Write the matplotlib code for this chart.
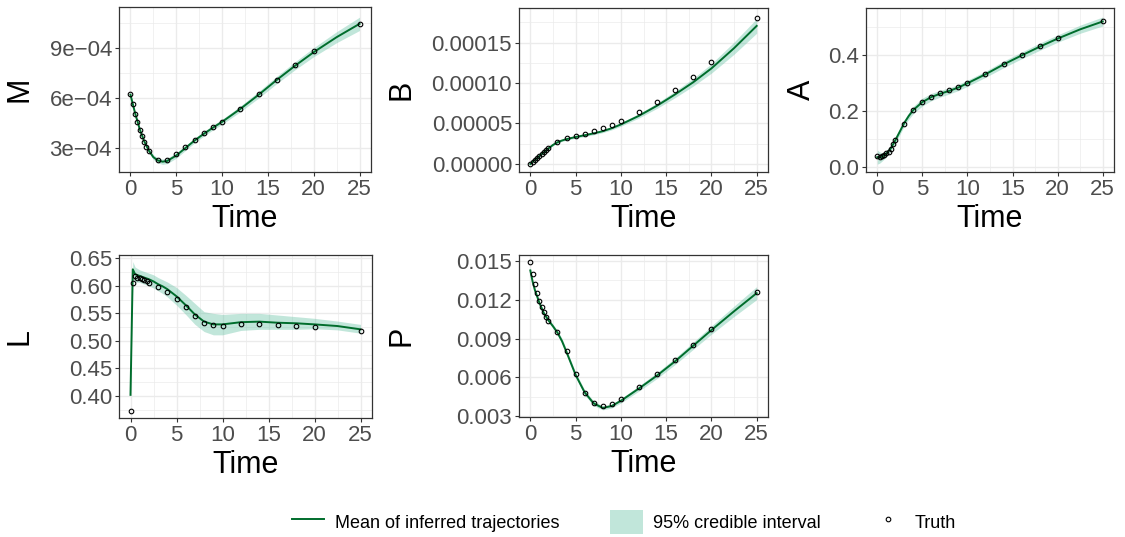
import matplotlib
matplotlib.use("Agg")
import matplotlib.pyplot as plt
import numpy as np
from matplotlib.lines import Line2D
from matplotlib.patches import Patch
from matplotlib.ticker import AutoMinorLocator

plt.rcParams['font.family'] = ['Liberation Sans', 'DejaVu Sans']

# times of the true trajectory points
t_truth = [0, 0.25, 0.5, 0.75, 1, 1.25, 1.5, 1.75, 2, 3, 4, 5, 6, 7, 8, 9, 10,
           12, 14, 16, 18, 20, 25]
# times of the inferred mean / credible band
t_fit = [0, 0.25, 0.5, 1, 1.5, 2, 2.5, 3, 3.5, 4, 5, 6, 7, 8, 9, 10, 12, 14,
         16, 18, 20, 22.5, 25]

# M (x 1e-4)
M_truth = [6.26, 5.62, 5.06, 4.54, 4.10, 3.70, 3.36, 3.06, 2.80, 2.26, 2.26, 2.62,
           3.06, 3.50, 3.88, 4.24, 4.56, 5.34, 6.22, 7.10, 7.98, 8.80, 10.46]
M_mean = [6.20, 5.65, 5.10, 4.15, 3.40, 2.85, 2.45, 2.25, 2.18, 2.22, 2.55, 3.00,
          3.45, 3.85, 4.22, 4.57, 5.35, 6.20, 7.10, 7.95, 8.75, 9.65, 10.45]
M_lo = [6.08, 5.55, 5.00, 4.05, 3.30, 2.73, 2.31, 2.10, 2.02, 2.06, 2.39, 2.85,
        3.31, 3.71, 4.08, 4.42, 5.18, 6.00, 6.88, 7.71, 8.48, 9.32, 10.05]
M_hi = [6.32, 5.75, 5.20, 4.25, 3.50, 2.97, 2.59, 2.40, 2.34, 2.38, 2.71, 3.15,
        3.59, 3.99, 4.36, 4.72, 5.52, 6.40, 7.32, 8.19, 9.02, 9.98, 10.85]

# B (x 1e-5)
B_truth = [0, 0.25, 0.54, 0.79, 0.99, 1.2, 1.45, 1.7, 1.94, 2.69, 3.18, 3.47,
           3.72, 4.05, 4.42, 4.79, 5.29, 6.36, 7.64, 9.09, 10.74, 12.64, 18.02]
B_mean = [0, 0.25, 0.5, 0.98, 1.45, 1.92, 2.35, 2.68, 2.9, 3.07, 3.33, 3.55,
          3.78, 4.05, 4.42, 4.88, 5.95, 7.2, 8.6, 10.1, 11.8, 14.3, 17.05]
B_lo = [0, 0.2, 0.45, 0.92, 1.38, 1.84, 2.25, 2.57, 2.78, 2.94, 3.18, 3.39,
        3.61, 3.87, 4.22, 4.66, 5.68, 6.87, 8.2, 9.62, 11.22, 13.55, 16.15]
B_hi = [0.03, 0.3, 0.55, 1.04, 1.52, 2.0, 2.45, 2.79, 3.02, 3.2, 3.48, 3.71,
        3.95, 4.23, 4.62, 5.1, 6.22, 7.53, 9.0, 10.58, 12.38, 15.05, 17.95]

# A
A_truth = [0.038, 0.036, 0.038, 0.042, 0.048, 0.055, 0.065, 0.08, 0.097, 0.154,
           0.202, 0.231, 0.25, 0.262, 0.273, 0.284, 0.299, 0.331, 0.367, 0.398,
           0.43, 0.459, 0.519]
A_mean = [0.035, 0.033, 0.036, 0.047, 0.066, 0.095, 0.126, 0.157, 0.182, 0.203,
          0.231, 0.249, 0.261, 0.271, 0.283, 0.298, 0.33, 0.365, 0.397, 0.428,
          0.457, 0.49, 0.518]
A_lo = [0.010, 0.013, 0.020, 0.035, 0.055, 0.084, 0.115, 0.146, 0.170, 0.190,
        0.217, 0.236, 0.249, 0.260, 0.272, 0.287, 0.319, 0.353, 0.385, 0.415,
        0.444, 0.476, 0.502]
A_hi = [0.060, 0.054, 0.050, 0.059, 0.077, 0.106, 0.137, 0.168, 0.194, 0.216,
        0.245, 0.262, 0.273, 0.282, 0.294, 0.309, 0.341, 0.377, 0.409, 0.441,
        0.470, 0.505, 0.534]

# L
L_truth = [0.372, 0.606, 0.617, 0.615, 0.614, 0.612, 0.610, 0.608, 0.606, 0.597,
           0.589, 0.577, 0.561, 0.545, 0.533, 0.528, 0.527, 0.530, 0.530, 0.529,
           0.527, 0.526, 0.518]
L_mean = [0.402, 0.630, 0.621, 0.618, 0.615, 0.612, 0.608, 0.603, 0.599, 0.594,
          0.581, 0.565, 0.548, 0.535, 0.530, 0.530, 0.534, 0.535, 0.533, 0.532,
          0.530, 0.527, 0.521]
L_lo = [0.395, 0.612, 0.607, 0.606, 0.603, 0.600, 0.596, 0.591, 0.586, 0.580,
        0.565, 0.548, 0.530, 0.517, 0.511, 0.511, 0.519, 0.521, 0.521, 0.521,
        0.522, 0.520, 0.514]
L_hi = [0.410, 0.644, 0.634, 0.629, 0.626, 0.623, 0.620, 0.615, 0.611, 0.607,
        0.597, 0.583, 0.568, 0.553, 0.550, 0.548, 0.550, 0.550, 0.547, 0.544,
        0.541, 0.536, 0.530]

# P (x 1e-3)
P_truth = [14.92, 13.97, 13.18, 12.49, 11.9, 11.41, 11.03, 10.69, 10.38, 9.54,
           8.05, 6.26, 4.8, 4.0, 3.77, 3.92, 4.31, 5.28, 6.26, 7.33, 8.51, 9.74,
           12.62]
P_mean = [14.25, 13.4, 12.75, 11.75, 10.95, 10.4, 9.95, 9.45, 8.8, 7.95, 6.2,
          4.85, 4.0, 3.65, 3.8, 4.2, 5.15, 6.15, 7.25, 8.45, 9.65, 11.1, 12.5]
P_lo = [14.05, 13.25, 12.6, 11.6, 10.8, 10.25, 9.8, 9.28, 8.6, 7.75, 6.0, 4.65,
        3.83, 3.5, 3.65, 4.03, 4.95, 5.92, 7.0, 8.17, 9.33, 10.7, 12.0]
P_hi = [14.45, 13.55, 12.9, 11.9, 11.1, 10.55, 10.1, 9.62, 9.0, 8.15, 6.4, 5.05,
        4.17, 3.8, 3.95, 4.37, 5.35, 6.38, 7.5, 8.73, 9.97, 11.5, 13.0]

x_ticks = [0, 5, 10, 15, 20, 25]
M_ticks = [3e-4, 6e-4, 9e-4]
M_ticklabels = ['3e\u221204', '6e\u221204', '9e\u221204']
B_ticks = [0, 5e-5, 1e-4, 1.5e-4]
B_ticklabels = ['0.00000', '0.00005', '0.00010', '0.00015']
A_ticks = [0.0, 0.2, 0.4]
A_ticklabels = ['0.0', '0.2', '0.4']
L_ticks = [0.40, 0.45, 0.50, 0.55, 0.60, 0.65]
L_ticklabels = ['0.40', '0.45', '0.50', '0.55', '0.60', '0.65']
P_ticks = [0.003, 0.006, 0.009, 0.012, 0.015]
P_ticklabels = ['0.003', '0.006', '0.009', '0.012', '0.015']

LINE = '#006d2c'
FILL = '#66c2a4'
W, H = 1125, 537

fig = plt.figure(figsize=(W / 100, H / 100), dpi=100)


def panel(box, label_x, name, scale, truth, mean, lo, hi, ylim, ticks, ticklabels):
    l, r, t, b = box
    ax = fig.add_axes([l / W, 1 - b / H, (r - l) / W, (b - t) / H])
    ax.fill_between(t_fit, np.array(lo) * scale, np.array(hi) * scale,
                    color=FILL, alpha=0.4, lw=0)
    ax.plot(t_fit, np.array(mean) * scale, color=LINE, lw=1.4)
    ax.plot(t_truth, np.array(truth) * scale, 'o', mfc='none', mec='black',
            ms=3.3, mew=0.8)
    ax.set_xlim(-1.25, 26.25)
    ax.set_ylim(*ylim)
    ax.set_xticks(x_ticks)
    ax.set_yticks(ticks)
    ax.set_yticklabels(ticklabels)
    ax.xaxis.set_minor_locator(AutoMinorLocator(2))
    ax.yaxis.set_minor_locator(AutoMinorLocator(2))
    ax.grid(True, which='major', color='#EBEBEB', lw=1.0)
    ax.grid(True, which='minor', color='#EBEBEB', lw=0.5)
    ax.set_axisbelow(True)
    ax.tick_params(which='major', length=3, width=0.8, color='#333333',
                   labelcolor='#4D4D4D', labelsize=16, pad=2)
    ax.tick_params(which='minor', length=0)
    for s in ax.spines.values():
        s.set_color('#333333')
        s.set_linewidth(0.9)
    ax.set_xlabel('Time', fontsize=22, va='center')
    ax.xaxis.set_label_coords(0.5, -47 / (b - t))
    ax.set_ylabel(name, fontsize=22, va='center')
    ax.yaxis.set_label_coords((label_x - l) / (r - l), 0.5)
    return ax


panel((119, 371, 7, 172), 20, 'M', 1e-4, M_truth, M_mean, M_lo, M_hi,
      (1.56e-4, 1.146e-3), M_ticks, M_ticklabels)
panel((519, 768, 8, 172), 402, 'B', 1e-5, B_truth, B_mean, B_lo, B_hi,
      (-0.99e-5, 1.926e-4), B_ticks, B_ticklabels)
panel((866, 1114, 8, 172), 802, 'A', 1, A_truth, A_mean, A_lo, A_hi,
      (-0.018, 0.566), A_ticks, A_ticklabels)
panel((119, 372, 255, 418), 20, 'L', 1, L_truth, L_mean, L_lo, L_hi,
      (0.360, 0.656), L_ticks, L_ticklabels)
panel((519, 768, 255, 417), 402, 'P', 1e-3, P_truth, P_mean, P_lo, P_hi,
      (0.00295, 0.01544), P_ticks, P_ticklabels)

handles = [
    Line2D([], [], color=LINE, lw=1.4),
    Patch(facecolor=FILL, alpha=0.4, lw=0),
    Line2D([], [], ls='none', marker='o', mfc='none', mec='black', ms=3.3, mew=0.8),
]
labels = ['Mean of inferred trajectories', '95% credible interval', 'Truth']
fig.legend(handles, labels, loc='center', bbox_to_anchor=(624 / W, 1 - 522 / H),
           ncol=3, frameon=False, fontsize=13, handlelength=1.8, handleheight=1.6,
           handletextpad=0.6, columnspacing=2.8)

fig.savefig('out.png', dpi=100)
